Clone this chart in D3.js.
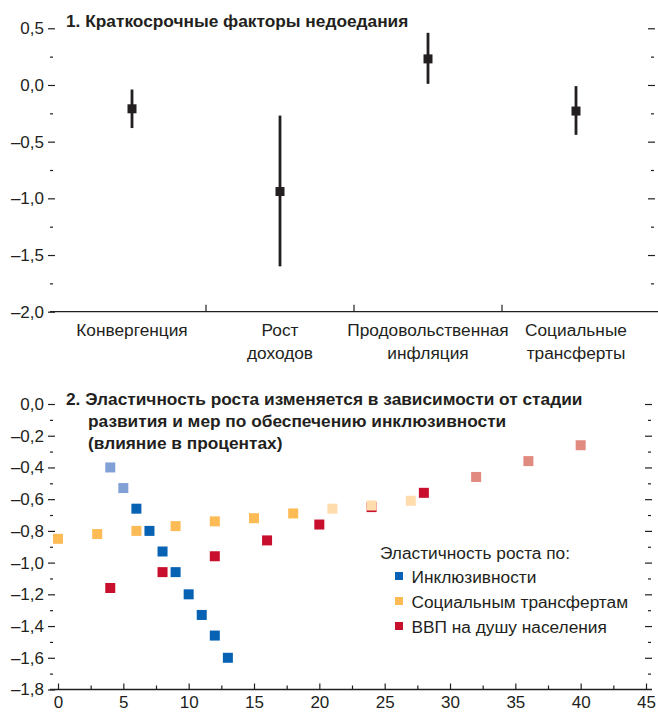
<!DOCTYPE html>
<html>
<head>
<meta charset="utf-8">
<script src="https://d3js.org/d3.v7.min.js"></script>
<style>
  body { margin: 0; background: #fff; }
  svg { font-family: "Liberation Sans", Arial, sans-serif; }
  .tick text { font-size: 17px; fill: #231f20; }
  .tick line { stroke: #231f20; stroke-width: 1.2; }
</style>
</head>
<body>
<svg width="658" height="717"></svg>
<script>
// panel 1: short-term drivers of undernourishment
const factorLines = [["Конвергенция"], ["Рост", "доходов"], ["Продовольственная", "инфляция"], ["Социальные", "трансферты"]];
const factorEst = [-0.21, -0.94, 0.23, -0.23];
const factorLow = [-0.38, -1.60, 0.01, -0.44];
const factorHigh = [-0.04, -0.27, 0.46, -0.01];
const topTicks = [0.5, 0, -0.5, -1, -1.5, -2];

// panel 2: growth elasticity by stage of development
const inclX = [4, 5, 6, 7, 8, 9, 10, 11, 12, 13];
const inclY = [-0.40, -0.53, -0.66, -0.80, -0.93, -1.06, -1.20, -1.33, -1.46, -1.60];
const inclSig = [0, 0, 1, 1, 1, 1, 1, 1, 1, 1];
const transX = [0, 3, 6, 9, 12, 15, 18, 21, 24, 27];
const transY = [-0.85, -0.82, -0.80, -0.77, -0.74, -0.72, -0.69, -0.66, -0.64, -0.61];
const transSig = [1, 1, 1, 1, 1, 1, 1, 0, 0, 0];
const gdpX = [4, 8, 12, 16, 20, 24, 28, 32, 36, 40];
const gdpY = [-1.16, -1.06, -0.96, -0.86, -0.76, -0.65, -0.56, -0.46, -0.36, -0.26];
const gdpSig = [1, 1, 1, 1, 1, 1, 1, 0, 0, 0];
const bottomYTicks = [0, -0.2, -0.4, -0.6, -0.8, -1, -1.2, -1.4, -1.6, -1.8];
const bottomXTicks = [0, 5, 10, 15, 20, 25, 30, 35, 40, 45];
const legendLabels = ["Инклюзивности", "Социальным трансфертам", "ВВП на душу населения"];

const ink = "#231f20";
const fs = "17.3px";
const fmt = v => d3.format(".1f")(v).replace(".", ",").replace("−", "–").replace("-", "–");

const svg = d3.select("svg");

// ---------- panel 1 ----------
const x1 = d3.scaleBand().domain(factorLines.map((d, i) => i)).range([58, 650]);
const y1 = d3.scaleLinear().domain([-2, 0.5]).range([311.7, 28.3]);
const minorTop = d3.range(-1.75, 0.5, 0.5);

svg.append("g").attr("transform", "translate(55,0)")
  .call(d3.axisLeft(y1).tickValues(topTicks).tickFormat(fmt).tickSize(7).tickPadding(4))
  .call(g => g.select(".domain").remove());
svg.append("g").attr("transform", "translate(53,0)")
  .call(d3.axisLeft(y1).tickValues(minorTop).tickFormat("").tickSize(3))
  .call(g => g.select(".domain").remove());
svg.append("g").attr("transform", "translate(648,0)")
  .call(d3.axisRight(y1).tickValues(topTicks.slice(0, 5)).tickFormat("").tickSize(7))
  .call(g => g.select(".domain").remove());
svg.append("g").attr("transform", "translate(651,0)")
  .call(d3.axisRight(y1).tickValues(minorTop).tickFormat("").tickSize(3))
  .call(g => g.select(".domain").remove());

svg.append("line").attr("x1", 50).attr("x2", 658).attr("y1", y1(-2)).attr("y2", y1(-2))
  .attr("stroke", ink).attr("stroke-width", 1.3);
svg.selectAll(".sep").data(factorLines.slice(1)).enter().append("line")
  .attr("x1", (d, i) => x1(i + 1)).attr("x2", (d, i) => x1(i + 1))
  .attr("y1", y1(-2)).attr("y2", y1(-2) - 7)
  .attr("stroke", ink).attr("stroke-width", 1.2);

const cats = svg.selectAll(".cat").data(factorLines).enter().append("text")
  .attr("text-anchor", "middle").attr("font-size", fs).attr("fill", ink)
  .attr("x", (d, i) => x1(i) + x1.bandwidth() / 2).attr("y", 336);
cats.selectAll("tspan").data(d => d).enter().append("tspan")
  .attr("x", function () { return d3.select(this.parentNode).attr("x"); })
  .attr("dy", (d, i) => i ? 23 : 0).text(d => d);

svg.selectAll(".err").data(factorEst).enter().append("line")
  .attr("x1", (d, i) => x1(i) + x1.bandwidth() / 2).attr("x2", (d, i) => x1(i) + x1.bandwidth() / 2)
  .attr("y1", (d, i) => y1(factorLow[i])).attr("y2", (d, i) => y1(factorHigh[i]))
  .attr("stroke", ink).attr("stroke-width", 2.8);
svg.selectAll(".est").data(factorEst).enter().append("rect")
  .attr("width", 9).attr("height", 9).attr("fill", ink)
  .attr("x", (d, i) => x1(i) + x1.bandwidth() / 2 - 4.5).attr("y", d => y1(d) - 4.5);

svg.append("text").attr("x", 66).attr("y", 26.5).attr("font-weight", "bold").attr("font-size", fs)
  .attr("fill", ink).text("1. Краткосрочные факторы недоедания");

// ---------- panel 2 ----------
const x2 = d3.scaleLinear().domain([0, 45]).range([58, 646]);
const y2 = d3.scaleLinear().domain([-1.8, 0]).range([689.5, 404]);
const minorBottom = d3.range(-1.7, 0, 0.2);

svg.append("g").attr("transform", "translate(55,0)")
  .call(d3.axisLeft(y2).tickValues(bottomYTicks).tickFormat(fmt).tickSize(7).tickPadding(4))
  .call(g => g.select(".domain").remove());
svg.append("g").attr("transform", "translate(53,0)")
  .call(d3.axisLeft(y2).tickValues(minorBottom).tickFormat("").tickSize(3))
  .call(g => g.select(".domain").remove());
svg.append("g").attr("transform", "translate(645,0)")
  .call(d3.axisRight(y2).tickValues(bottomYTicks.slice(0, 9)).tickFormat("").tickSize(7))
  .call(g => g.select(".domain").remove());
svg.append("g").attr("transform", "translate(648,0)")
  .call(d3.axisRight(y2).tickValues(minorBottom).tickFormat("").tickSize(3))
  .call(g => g.select(".domain").remove());

svg.append("g").attr("transform", `translate(0,${y2(-1.8)})`)
  .call(d3.axisBottom(x2).tickValues(bottomXTicks).tickFormat(d3.format("d")).tickSizeInner(-6).tickSizeOuter(0).tickPadding(6))
  .call(g => g.select(".domain").remove())
  .call(g => g.selectAll("text").attr("font-size", "18px"));
svg.append("g").attr("transform", `translate(0,${y2(-1.8)})`)
  .call(d3.axisBottom(x2).tickValues(d3.range(2.5, 45, 5)).tickFormat("").tickSizeInner(-4).tickSizeOuter(0))
  .call(g => g.select(".domain").remove());
svg.append("line").attr("x1", 50).attr("x2", 652).attr("y1", y2(-1.8)).attr("y2", y2(-1.8))
  .attr("stroke", ink).attr("stroke-width", 1.3);

const series = [
  { xs: gdpX, ys: gdpY, sig: gdpSig, strong: "#c8102e", faint: "#e08a80" },
  { xs: inclX, ys: inclY, sig: inclSig, strong: "#0762b4", faint: "#80a0d6" },
  { xs: transX, ys: transY, sig: transSig, strong: "#fdbb55", faint: "#fedcab" }
];
series.forEach(s => {
  svg.append("g").selectAll("rect").data(s.ys).enter().append("rect")
    .attr("width", 10).attr("height", 10)
    .attr("x", (d, i) => x2(s.xs[i]) - 5).attr("y", d => y2(d) - 5)
    .attr("fill", (d, i) => s.sig[i] ? s.strong : s.faint);
});

const title2 = svg.append("text").attr("font-weight", "bold").attr("font-size", fs).attr("fill", ink);
title2.append("tspan").attr("x", 66).attr("y", 405).text("2. Эластичность роста изменяется в зависимости от стадии");
title2.append("tspan").attr("x", 88).attr("y", 427).text("развития и мер по обеспечению инклюзивности");
title2.append("tspan").attr("x", 88).attr("y", 449).text("(влияние в процентах)");

// legend
const legend = svg.append("g");
legend.append("text").attr("x", 380).attr("y", 558.5).attr("font-size", fs).attr("fill", ink)
  .text("Эластичность роста по:");
const rows = legend.selectAll(".row").data(legendLabels).enter().append("g")
  .attr("transform", (d, i) => `translate(0,${583 + i * 25})`);
rows.append("rect").attr("x", 395).attr("y", -11).attr("width", 8).attr("height", 8)
  .attr("fill", (d, i) => [series[1], series[2], series[0]][i].strong);
rows.append("text").attr("x", 411.5).attr("y", 0).attr("font-size", fs).attr("fill", ink).text(d => d);
</script>
</body>
</html>
